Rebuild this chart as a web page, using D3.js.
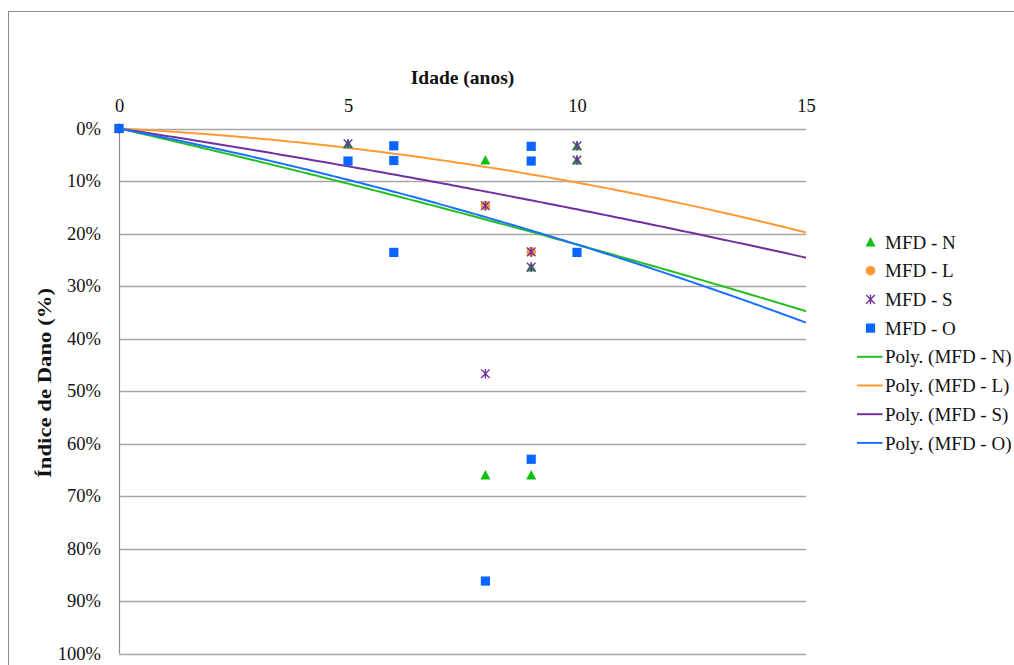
<!DOCTYPE html>
<html>
<head>
<meta charset="utf-8">
<script src="https://cdn.jsdelivr.net/npm/d3@7"></script>
<style>
  html, body { margin: 0; padding: 0; background: #fff; }
  svg { display: block; }
</style>
</head>
<body>
<svg id="chart" width="1014" height="665"></svg>
<script>
// Scatter data: age (years) vs damage index (%)
const seriesNames = ["MFD - N", "MFD - L", "MFD - S", "MFD - O"];
const ageN = [0, 5, 8, 8, 9, 9, 10, 10];
const damageN = [0, 2.9, 6.0, 66.0, 26.4, 66.0, 3.3, 6.0];
const ageL = [0, 8, 9];
const damageL = [0, 14.7, 23.5];
const ageS = [0, 5, 8, 8, 9, 9, 10, 10];
const damageS = [0, 2.9, 14.7, 46.7, 23.5, 26.4, 3.3, 6.0];
const ageO = [0, 5, 6, 6, 6, 8, 9, 9, 9, 10];
const damageO = [0, 6.2, 3.3, 6.1, 23.6, 86.2, 3.4, 6.2, 63.0, 23.6];

// Polynomial trendline coefficients (order 2, zero intercept): y = c1*x + c2*x^2
const trendN = [1.99, 0.022];
const trendL = [0.45, 0.058];
const trendS = [1.34, 0.020];
const trendO = [1.70, 0.051];

const xTicks = [0, 5, 10, 15];
const yTicks = [0, 10, 20, 30, 40, 50, 60, 70, 80, 90, 100];
const xTitle = "Idade (anos)";
const yTitle = "Índice de Dano (%)";

const colors = ["#10C010", "#FF9933", "#7030A0", "#0A66FF"];
const lineColors = ["#22C022", "#FF9933", "#7030A0", "#1A72FF"];
const shapes = ["triangle", "circle", "star", "square"];

const series = [
  { name: seriesNames[0], x: ageN, y: damageN, trend: trendN },
  { name: seriesNames[1], x: ageL, y: damageL, trend: trendL },
  { name: seriesNames[2], x: ageS, y: damageS, trend: trendS },
  { name: seriesNames[3], x: ageO, y: damageO, trend: trendO }
];

const FONT = '"Liberation Serif"';
const svg = d3.select("#chart");

// Chart border
svg.append("rect")
  .attr("x", 8.5).attr("y", 11.5)
  .attr("width", 1020).attr("height", 700)
  .attr("fill", "none").attr("stroke", "#8c8c8c").attr("stroke-width", 1);

const x = d3.scaleLinear().domain([0, 15]).range([119, 806]);
const y = d3.scaleLinear().domain([0, 100]).range([128.5, 653.5]);

// Horizontal gridlines
svg.append("g").selectAll("line")
  .data(yTicks)
  .join("line")
  .attr("x1", x(0)).attr("x2", x(15))
  .attr("y1", d => Math.round(y(d)) + 0.5).attr("y2", d => Math.round(y(d)) + 0.5)
  .attr("stroke", "#a6a6a6").attr("stroke-width", 1.3);

// Vertical axis line
svg.append("line")
  .attr("x1", x(0) + 0.5).attr("x2", x(0) + 0.5)
  .attr("y1", y(0)).attr("y2", y(100))
  .attr("stroke", "#8c8c8c").attr("stroke-width", 1.2);

// Y axis labels
const yAxis = d3.axisLeft(y).tickValues(yTicks).tickFormat(d => d + "%").tickSize(0).tickPadding(18);
const gy = svg.append("g").attr("transform", `translate(${x(0)},0)`).call(yAxis);
gy.attr("font-family", null).attr("font-size", null);
gy.select(".domain").remove();
gy.selectAll("text").style("font-family", FONT).style("font-size", "18.5px").attr("fill", "#111");

// X axis labels (top)
const xAxis = d3.axisTop(x).tickValues(xTicks).tickFormat(d3.format("d")).tickSize(0).tickPadding(17);
const gx = svg.append("g").attr("transform", `translate(0,${y(0)})`).call(xAxis);
gx.attr("font-family", null).attr("font-size", null);
gx.select(".domain").remove();
gx.selectAll("text").style("font-family", FONT).style("font-size", "18.5px").attr("fill", "#111");

// Axis titles
svg.append("text")
  .attr("x", (x(0) + x(15)) / 2).attr("y", 84)
  .attr("text-anchor", "middle")
  .style("font-family", FONT).style("font-size", "19.5px").style("font-weight", "bold")
  .attr("fill", "#111").text(xTitle);

svg.append("text")
  .attr("transform", `translate(51,${(y(0) + y(100)) / 2 - 8}) rotate(-90)`)
  .attr("text-anchor", "middle")
  .attr("textLength", 190).attr("lengthAdjust", "spacingAndGlyphs")
  .style("font-family", FONT).style("font-size", "19.5px").style("font-weight", "bold")
  .attr("fill", "#111").text(yTitle);

// Trendlines
const line = d3.line().x(d => x(d[0])).y(d => y(d[1]));
const trendG = svg.append("g");
series.forEach((s, i) => {
  const pts = d3.range(0, 15.001, 0.1).map(v => [v, s.trend[0] * v + s.trend[1] * v * v]);
  trendG.append("path")
    .attr("d", line(pts))
    .attr("fill", "none")
    .attr("stroke", lineColors[i])
    .attr("stroke-width", 2);
});

// Marker drawing
function drawMarker(g, shape, cx, cy, color) {
  if (shape === "triangle") {
    g.append("path")
      .attr("d", `M${cx},${cy - 5}L${cx + 5},${cy + 4.5}L${cx - 5},${cy + 4.5}Z`)
      .attr("fill", color);
  } else if (shape === "circle") {
    g.append("circle").attr("cx", cx).attr("cy", cy).attr("r", 4.8).attr("fill", color);
  } else if (shape === "square") {
    g.append("rect").attr("x", cx - 4.6).attr("y", cy - 4.6)
      .attr("width", 9.2).attr("height", 9.2).attr("fill", color);
  } else if (shape === "star") {
    const r = 4.3;
    g.append("path")
      .attr("d", `M${cx - r},${cy - r}L${cx + r},${cy + r}M${cx + r},${cy - r}L${cx - r},${cy + r}M${cx},${cy - r - 0.5}L${cx},${cy + r + 0.5}`)
      .attr("stroke", color).attr("stroke-width", 1.4).attr("fill", "none");
  }
}

const markG = svg.append("g");
series.forEach((s, i) => {
  s.x.forEach((xv, j) => {
    drawMarker(markG, shapes[i], x(xv), y(s.y[j]), colors[i]);
  });
});

// Legend
const legend = svg.append("g");
const rowY0 = 242, rowStep = 28.7;
series.forEach((s, i) => {
  const ry = rowY0 + i * rowStep;
  drawMarker(legend, shapes[i], 870.5, ry, colors[i]);
  legend.append("text").attr("x", 885).attr("y", ry).attr("dy", "0.35em")
    .style("font-family", FONT).style("font-size", "19px")
    .attr("fill", "#111").text(s.name);
});
series.forEach((s, i) => {
  const ry = rowY0 + (i + 4) * rowStep;
  legend.append("line").attr("x1", 857).attr("x2", 882.5).attr("y1", ry).attr("y2", ry)
    .attr("stroke", lineColors[i]).attr("stroke-width", 2);
  legend.append("text").attr("x", 885).attr("y", ry).attr("dy", "0.35em")
    .style("font-family", FONT).style("font-size", "19px")
    .attr("fill", "#111").text(`Poly. (${s.name})`);
});
</script>
</body>
</html>
